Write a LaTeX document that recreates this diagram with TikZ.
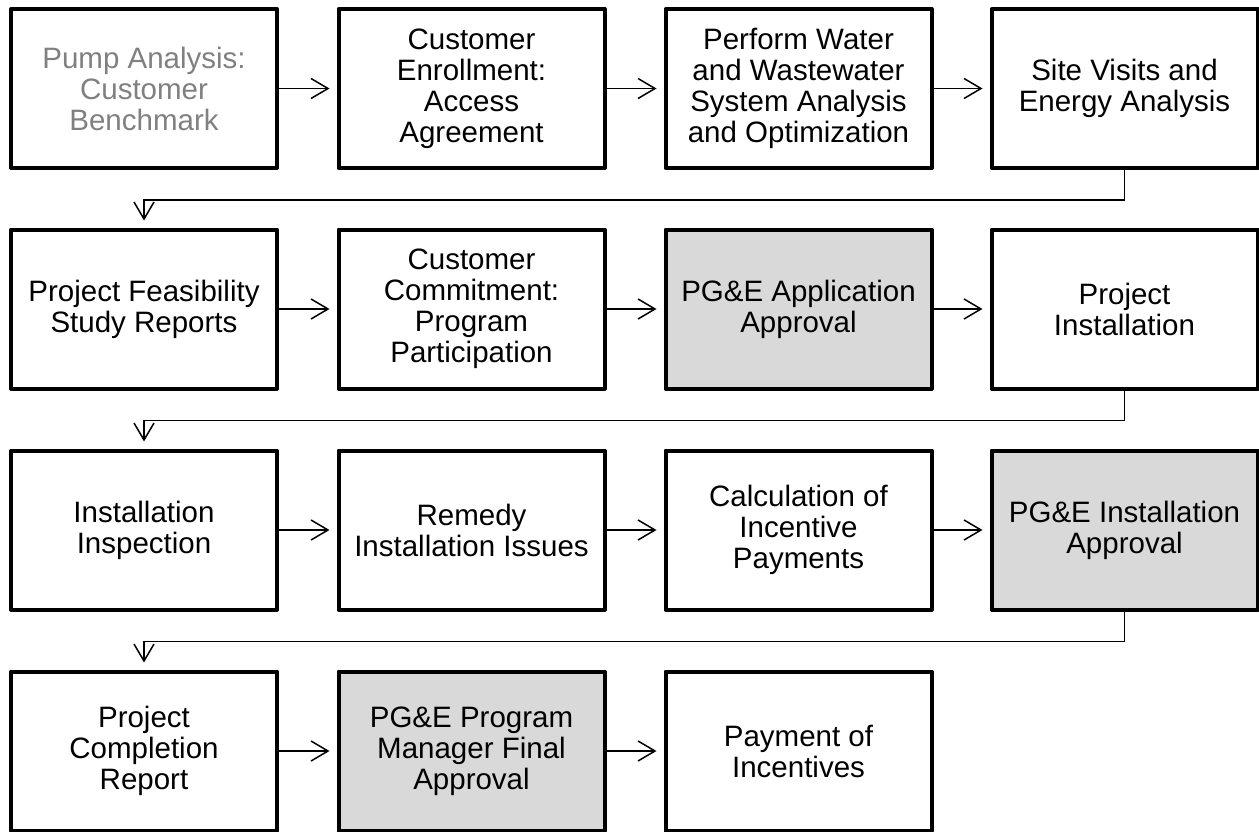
\documentclass[tikz,border=0pt]{standalone}
\usepackage{fontspec}
\setmainfont{Liberation Sans}
\usetikzlibrary{arrows.meta}
\definecolor{stepGray}{HTML}{D9D9D9}
\definecolor{fadedText}{HTML}{808080}

\begin{document}
\begin{tikzpicture}[x=1pt,y=-1pt,
		stepBox/.style={rectangle, draw, line width=4pt, line join=round, inner sep=0pt,
			minimum width=266pt, minimum height=159pt, align=center,
			font=\fontsize{29.5}{31}\selectfont},
		approvalBox/.style={stepBox, fill=stepGray},
		link/.style={line width=1.5pt, -{Straight Barb[length=17pt,width=20pt,line width=1.5pt]}, shorten >=7pt}]
		
		\useasboundingbox (0,0) rectangle (1259,832);
		
		% Row 1
		
		\node[stepBox, text=fadedText] 
		(benchmark) at (144,88.5) {Pump Analysis:\\Customer\\Benchmark};
		
		\node[stepBox] 
		(enrollment) at (471.5,88.5) {Customer\\Enrollment:\\Access\\Agreement};
		
		\node[stepBox] 
		(systemAnalysis) at (798.5,88.5) {Perform Water\\and Wastewater\\System Analysis\\and Optimization};
		
		\node[stepBox] 
		(siteVisits) at (1124.5,88.5) {Site Visits and\\Energy Analysis};
		
		% Row 2
		
		\node[stepBox] 
		(feasibility) at (144,309) {Project Feasibility\\Study Reports};
		
		\node[stepBox] 
		(commitment) at (471.5,309) {Customer\\Commitment:\\Program\\Participation};
		
		\node[approvalBox] 
		(applicationApproval) at (798.5,309) {PG\&E Application\\Approval};
		
		\node[stepBox] 
		(installation) at (1124.5,309) {Project\\Installation};
		
		% Row 3
		
		\node[stepBox] 
		(inspection) at (144,530) {Installation\\Inspection};
		
		\node[stepBox] 
		(remedy) at (471.5,530) {Remedy\\Installation Issues};
		
		\node[stepBox] 
		(calculation) at (798.5,530) {Calculation of\\Incentive\\Payments};
		
		\node[approvalBox] 
		(installationApproval) at (1124.5,530) {PG\&E Installation\\Approval};
		
		% Row 4
		
		\node[stepBox] 
		(completion) at (144,751) {Project\\Completion\\Report};
		
		\node[approvalBox] 
		(finalApproval) at (471.5,751) {PG\&E Program\\Manager Final\\Approval};
		
		\node[stepBox] 
		(payment) at (798.5,751) {Payment of\\Incentives};
		
		% Edges...
		
		\draw[link] (benchmark) -- (enrollment);
		\draw[link] (enrollment) -- (systemAnalysis);
		\draw[link] (systemAnalysis) -- (siteVisits);
		\draw[link] (siteVisits.south) -- ++(0,30) -| (feasibility.north);
		
		\draw[link] (feasibility) -- (commitment);
		\draw[link] (commitment) -- (applicationApproval);
		\draw[link] (applicationApproval) -- (installation);
		\draw[link] (installation.south) -- ++(0,30) -| (inspection.north);
		
		\draw[link] (inspection) -- (remedy);
		\draw[link] (remedy) -- (calculation);
		\draw[link] (calculation) -- (installationApproval);
		\draw[link] (installationApproval.south) -- ++(0,30) -| (completion.north);
		
		\draw[link] (completion) -- (finalApproval);
		\draw[link] (finalApproval) -- (payment);
		
	\end{tikzpicture}
\end{document}
